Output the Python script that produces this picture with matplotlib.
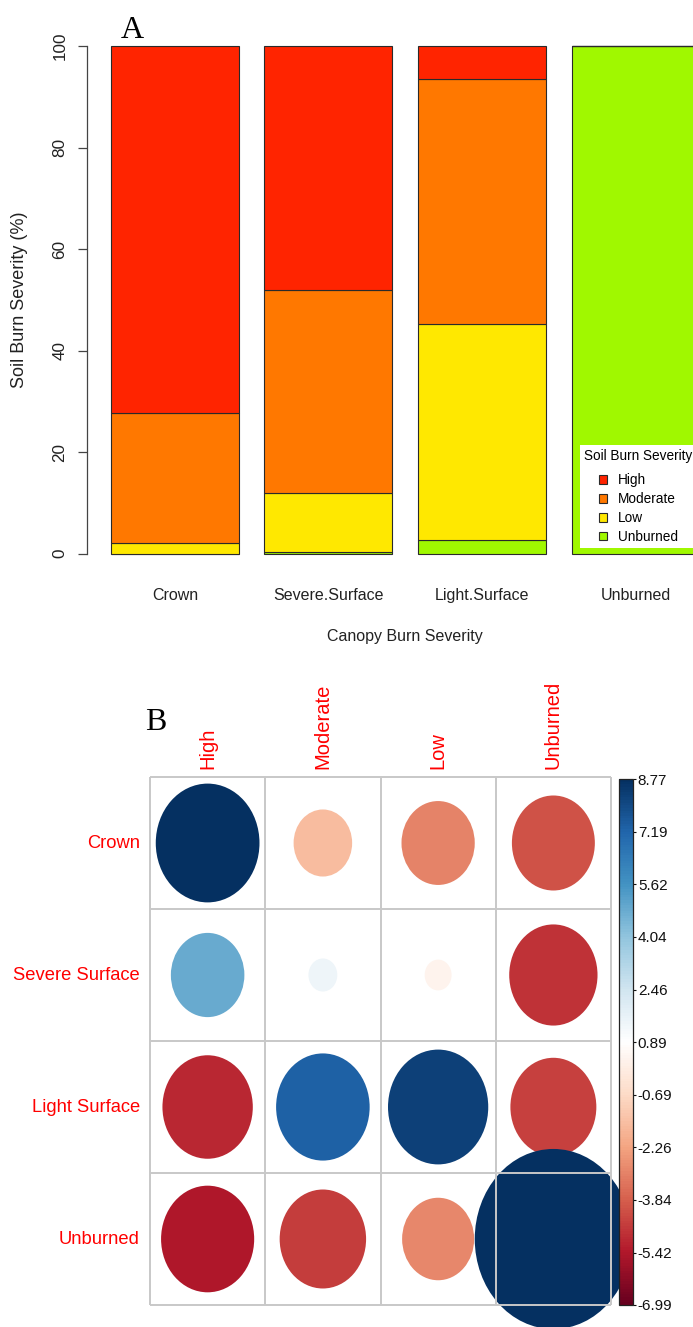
import numpy as np
import matplotlib
matplotlib.use("Agg")
import matplotlib.pyplot as plt
from matplotlib.patches import Ellipse, Patch
from matplotlib.colors import LinearSegmentedColormap, Normalize
import matplotlib.transforms as mtrans
import matplotlib.cm as cm

# ---------------- data ----------------
canopy = ["Crown", "Severe.Surface", "Light.Surface", "Unburned"]
soil_levels = ["Unburned", "Low", "Moderate", "High"]          # stacking order (bottom -> top)
pct_unburned = [0.0, 0.4, 2.6, 100.0]
pct_low = [2.2, 11.6, 42.7, 0.0]
pct_moderate = [25.5, 40.0, 48.2, 0.0]
pct_high = [72.3, 48.0, 6.5, 0.0]
yticks_top = [0, 20, 40, 60, 80, 100]

row_labels = ["Crown", "Severe Surface", "Light Surface", "Unburned"]
col_labels = ["High", "Moderate", "Low", "Unburned"]
resid_crown = [8.77, -1.62, -3.04, -4.15]
resid_severe = [4.85, 1.50, 0.36, -4.82]
resid_light = [-5.09, 7.30, 8.25, -4.52]
resid_unburned = [-5.46, -4.58, -2.91, 19.0]
cbar_ticklabels = ["-6.99", "-5.42", "-3.84", "-2.26", "-0.69", "0.89",
                   "2.46", "4.04", "5.62", "7.19", "8.77"]

# ---------------- style ----------------
W, H = 693, 1327
plt.rcParams['font.family'] = ['Liberation Sans', 'DejaVu Sans']
soil_colors = {"High": "#FF2400", "Moderate": "#FF7800", "Low": "#FFE800", "Unburned": "#A0F800"}

fig = plt.figure(figsize=(W / 100, H / 100), dpi=100)
fig.patch.set_facecolor("white")

def fx(px):
    return px / W

def fy(py):
    return 1 - py / H

# ---------------- panel A ----------------
left_px, right_px, top_px, bot_px = 87.4, 723.0, 25.7, 574.0
ax1 = fig.add_axes([fx(left_px), fy(bot_px), (right_px - left_px) / W, (bot_px - top_px) / H])
xpos = 0.7 + 1.2 * np.arange(len(canopy))
series = {"Unburned": pct_unburned, "Low": pct_low, "Moderate": pct_moderate, "High": pct_high}
bottom = np.zeros(len(canopy))
for lvl in soil_levels:
    vals = np.array(series[lvl])
    ax1.bar(xpos, vals, bottom=bottom, width=1.0, color=soil_colors[lvl],
            edgecolor="#2a2a2a", linewidth=0.8)
    bottom += vals
ax1.set_xlim(0.016, 4.984)
ax1.set_ylim(-4, 104)
for s in ["top", "right", "bottom"]:
    ax1.spines[s].set_visible(False)
ax1.spines["left"].set_bounds(0, 100)
ax1.spines["left"].set_color("#444444")
ax1.spines["left"].set_linewidth(0.9)
ax1.set_yticks(yticks_top)
ax1.set_yticklabels([str(t) for t in yticks_top], rotation=90, va="center")
ax1.tick_params(axis="y", length=6.5, width=0.9, color="#444444", pad=8, labelsize=12.3,
                labelcolor="#222222")
ax1.set_xticks(xpos)
ax1.set_xticklabels(canopy)
ax1.tick_params(axis="x", length=0, pad=10, labelsize=11.5, labelcolor="#222222")
fig.text(fx(405), fy(637), "Canopy Burn Severity", ha="center", va="center", fontsize=11.5,
         color="#222222")
fig.text(fx(20), fy(300), "Soil Burn Severity (%)", ha="center", va="center", rotation=90,
         fontsize=13, color="#222222")
fig.text(fx(121), fy(38), "A", family=["Liberation Serif", "DejaVu Serif"], fontsize=23,
         ha="left", va="baseline")

handles = [Patch(facecolor=soil_colors[l], edgecolor="#2a2a2a", linewidth=0.8)
           for l in soil_levels[::-1]]
leg = ax1.legend(handles, soil_levels[::-1], title="Soil Burn Severity",
                 loc="upper left", bbox_to_anchor=(fx(580), fy(445)),
                 bbox_transform=fig.transFigure, fontsize=9.8, title_fontsize=9.8,
                 frameon=True, fancybox=False, framealpha=1, borderpad=0.3,
                 handlelength=0.62, handleheight=0.62, handletextpad=0.75,
                 labelspacing=0.36, borderaxespad=0)
leg.get_frame().set_facecolor("white")
leg.get_frame().set_edgecolor("none")
leg._legend_box.sep = 7.2

# ---------------- panel B ----------------
gl, gr, gt, gb = 150, 611, 777, 1305
ax2 = fig.add_axes([fx(gl), fy(gb), (gr - gl) / W, (gb - gt) / H])
ax2.set_xlim(0.5, 4.5)
ax2.set_ylim(4.5, 0.5)
ax2.axis("off")

resid = np.array([resid_crown, resid_severe, resid_light, resid_unburned])
cl_lim = (float(cbar_ticklabels[0]), float(cbar_ticklabels[-1]))
mid = (cl_lim[0] + cl_lim[1]) / 2
half = (cl_lim[1] - cl_lim[0]) / 2
corr_cols = ["#67001F", "#B2182B", "#D6604D", "#F4A582", "#FDDBC7", "#FFFFFF",
             "#D1E5F0", "#92C5DE", "#4393C3", "#2166AC", "#053061"]
cmap = LinearSegmentedColormap.from_list("corrRdBu", corr_cols, N=200)
norm = Normalize(vmin=cl_lim[0], vmax=cl_lim[1], clip=True)

for i in range(resid.shape[0]):
    for j in range(resid.shape[1]):
        v = resid[i, j]
        scaled = (v - mid) / half
        r = 0.45 * np.sqrt(abs(scaled))
        e = Ellipse((j + 1, i + 1), 2 * r, 2 * r, facecolor=cmap(norm(v)),
                    edgecolor="none", clip_on=False, zorder=1)
        ax2.add_patch(e)

gridc = "#C8C8C8"
for k in np.arange(0.5, 4.6, 1.0):
    ax2.plot([k, k], [0.5, 4.5], color=gridc, lw=1.4, zorder=3, clip_on=False,
             solid_capstyle="butt")
    ax2.plot([0.5, 4.5], [k, k], color=gridc, lw=1.4, zorder=3, clip_on=False,
             solid_capstyle="butt")

tr_left = mtrans.offset_copy(ax2.transData, fig=fig, x=-10, y=0, units="dots")
for i, lab in enumerate(row_labels):
    ax2.text(0.5, i + 1, lab, transform=tr_left, ha="right", va="center", color="red",
             fontsize=13.2)
tr_up = mtrans.offset_copy(ax2.transData, fig=fig, x=0, y=8, units="dots")
for j, lab in enumerate(col_labels):
    ax2.text(j + 1, 0.5, lab, transform=tr_up, ha="center", va="bottom", rotation=90,
             color="red", fontsize=14.5)

fig.text(fx(145), fy(730), "B", family=["Liberation Serif", "DejaVu Serif"], fontsize=23,
         ha="left", va="baseline")

cax = fig.add_axes([fx(619), fy(1305), 14 / W, (1305 - 779) / H])
sm = cm.ScalarMappable(norm=norm, cmap=cmap)
cb = fig.colorbar(sm, cax=cax)
ticks = [float(t) for t in cbar_ticklabels]
cb.set_ticks(ticks)
cb.set_ticklabels(cbar_ticklabels)
cb.outline.set_linewidth(0.9)
cb.outline.set_edgecolor("#222222")
cax.tick_params(length=2.5, width=0.8, pad=1, labelsize=11, colors="#111111")

fig.savefig("out.png", dpi=100, facecolor="white")
